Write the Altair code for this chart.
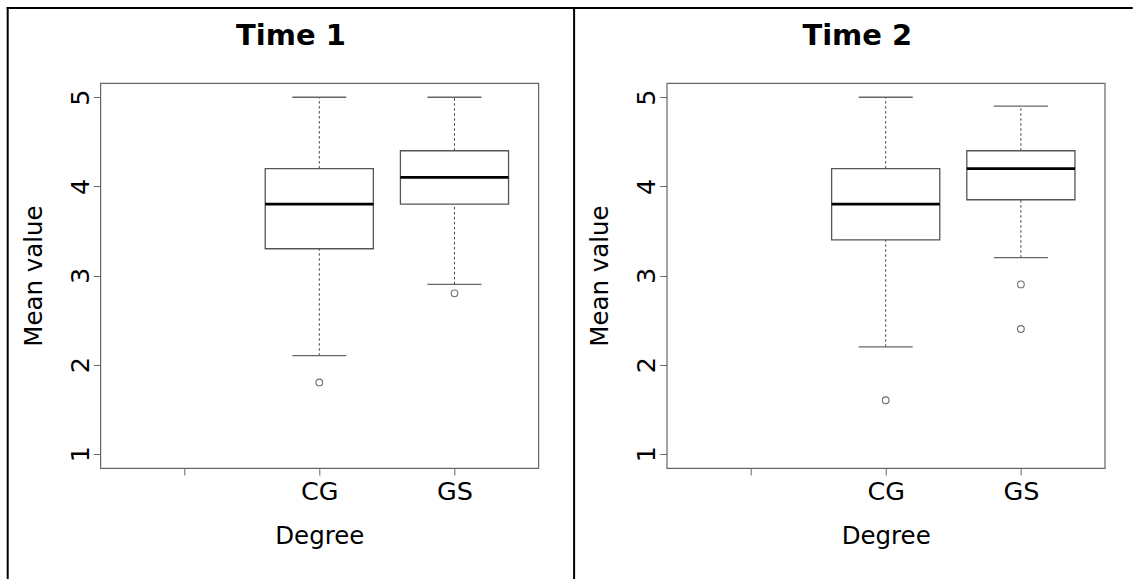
import json
import altair as alt
import pandas as pd

# ---------------- data ----------------
categories = ["", "CG", "GS"]          # x positions 1, 2, 3 (first level empty)
degrees = ["CG", "GS"]
panel_titles = ["Time 1", "Time 2"]

t1_upper = [5.0, 5.0]
t1_q3 = [4.2, 4.4]
t1_median = [3.8, 4.1]
t1_q1 = [3.3, 3.8]
t1_lower = [2.1, 2.9]
t1_out_degree = ["CG", "GS"]
t1_out_value = [1.8, 2.8]

t2_upper = [5.0, 4.9]
t2_q3 = [4.2, 4.4]
t2_median = [3.8, 4.2]
t2_q1 = [3.4, 3.85]
t2_lower = [2.2, 3.2]
t2_out_degree = ["CG", "GS", "GS"]
t2_out_value = [1.6, 2.9, 2.4]

y_ticks = [1, 2, 3, 4, 5]

FONT = "DejaVu Sans"
GRAY = "#666666"
W, H = 438, 385
BOXWEX = 0.4     # half box width (R boxwex 0.8)
CAPWEX = 0.2     # half staple width

x_scale = alt.Scale(domain=[0.38, 3.62], nice=False, zero=False)
y_scale = alt.Scale(domain=[0.84, 5.16], nice=False, zero=False)

label_expr = json.dumps(categories) + "[datum.value - 1]"

x_axis = alt.Axis(values=[1, 2, 3], labelExpr=label_expr, title="Degree",
                  grid=False, domain=False, ticks=True, tickSize=7,
                  tickColor=GRAY, tickWidth=1, labelFont=FONT, labelFontSize=25.5,
                  labelColor="black", labelPadding=5, labelOverlap=False,
                  labelFlush=False, titleFont=FONT, titleFontSize=24.5,
                  titleFontWeight="normal", titleColor="black", titlePadding=19)
y_axis = alt.Axis(values=y_ticks, title="Mean value", grid=False, domain=False,
                  tickSize=7, tickColor=GRAY, tickWidth=1, labelAngle=-90,
                  labelAlign="center", labelBaseline="alphabetic", labelPadding=5,
                  labelFont=FONT, labelFontSize=25.5, labelColor="black",
                  labelOverlap=False, labelFlush=False, titleFont=FONT,
                  titleFontSize=24.5, titleFontWeight="normal", titleColor="black",
                  titlePadding=22)


def panel(title, upper, q3, med, q1, lower, out_deg, out_val, last=False):
    pos = [categories.index(d) + 1 for d in degrees]
    box = pd.DataFrame({
        "degree": degrees, "pos": pos,
        "bl": [p - BOXWEX for p in pos], "br": [p + BOXWEX for p in pos],
        "upper": upper, "q3": q3, "median": med, "q1": q1, "lower": lower,
    })
    caps = pd.DataFrame({
        "cl": [p - CAPWEX for p in pos] * 2,
        "cr": [p + CAPWEX for p in pos] * 2,
        "v": list(upper) + list(lower),
    })
    whisk = pd.DataFrame({
        "pos": pos * 2,
        "a": list(q3) + list(lower),
        "b": list(upper) + list(q1),
    })
    outs = pd.DataFrame({
        "pos": [categories.index(d) + 1 for d in out_deg],
        "v": out_val,
    })

    whiskers = alt.Chart(whisk).mark_rule(color="#444444", strokeWidth=1,
                                          strokeDash=[2.5, 2.5]).encode(
        x=alt.X("pos:Q", scale=x_scale, axis=x_axis),
        y=alt.Y("a:Q", scale=y_scale, axis=y_axis),
        y2="b:Q")
    cap = alt.Chart(caps).mark_rule(color=GRAY, strokeWidth=1.3).encode(
        x=alt.X("cl:Q", scale=x_scale, axis=x_axis), x2="cr:Q",
        y=alt.Y("v:Q", scale=y_scale, axis=y_axis))
    rect = alt.Chart(box).mark_rect(fill="white", stroke="#555555",
                                    strokeWidth=1.3).encode(
        x=alt.X("bl:Q", scale=x_scale, axis=x_axis), x2="br:Q",
        y=alt.Y("q1:Q", scale=y_scale, axis=y_axis), y2="q3:Q")
    median = alt.Chart(box).mark_rule(color="black", strokeWidth=2.8).encode(
        x=alt.X("bl:Q", scale=x_scale, axis=x_axis), x2="br:Q",
        y=alt.Y("median:Q", scale=y_scale, axis=y_axis))
    points = alt.Chart(outs).mark_point(shape="circle", filled=False, size=45,
                                        color="#333333", strokeWidth=1.1).encode(
        x=alt.X("pos:Q", scale=x_scale, axis=x_axis),
        y=alt.Y("v:Q", scale=y_scale, axis=y_axis))

    # decorative frame (table-like borders around each cell)
    one = alt.Data(values=[{"t": title}])
    top_end = 466 if last else 473
    frame_left = alt.Chart(one).mark_rule(color="black", strokeWidth=2).encode(
        x=alt.value(-92.6), y=alt.value(-76), y2=alt.value(496))
    frame_top = alt.Chart(one).mark_rule(color="black", strokeWidth=2).encode(
        x=alt.value(-93.6), x2=alt.value(top_end), y=alt.value(-75.1))
    ttl = alt.Chart(one).mark_text(font=FONT, fontSize=29, fontWeight="bold",
                                   align="center", baseline="alphabetic",
                                   color="black").encode(
        x=alt.value(190.6), y=alt.value(-38.1), text="t:N")

    return alt.layer(whiskers, cap, rect, median, points, frame_left, frame_top,
                     ttl).properties(width=W, height=H)


p1 = panel(panel_titles[0], t1_upper, t1_q3, t1_median, t1_q1, t1_lower,
           t1_out_degree, t1_out_value)
p2 = panel(panel_titles[1], t2_upper, t2_q3, t2_median, t2_q1, t2_lower,
           t2_out_degree, t2_out_value, last=True)

chart = alt.HConcatChart(hconcat=[p1, p2], bounds="flush", spacing=128.4).properties(
    padding={"left": 4.3, "top": 5.0, "right": 0, "bottom": 0},
    background="white",
).configure_view(stroke=GRAY, strokeWidth=1.2)

chart.save("out.html", embed_options={"renderer": "svg", "actions": False})
